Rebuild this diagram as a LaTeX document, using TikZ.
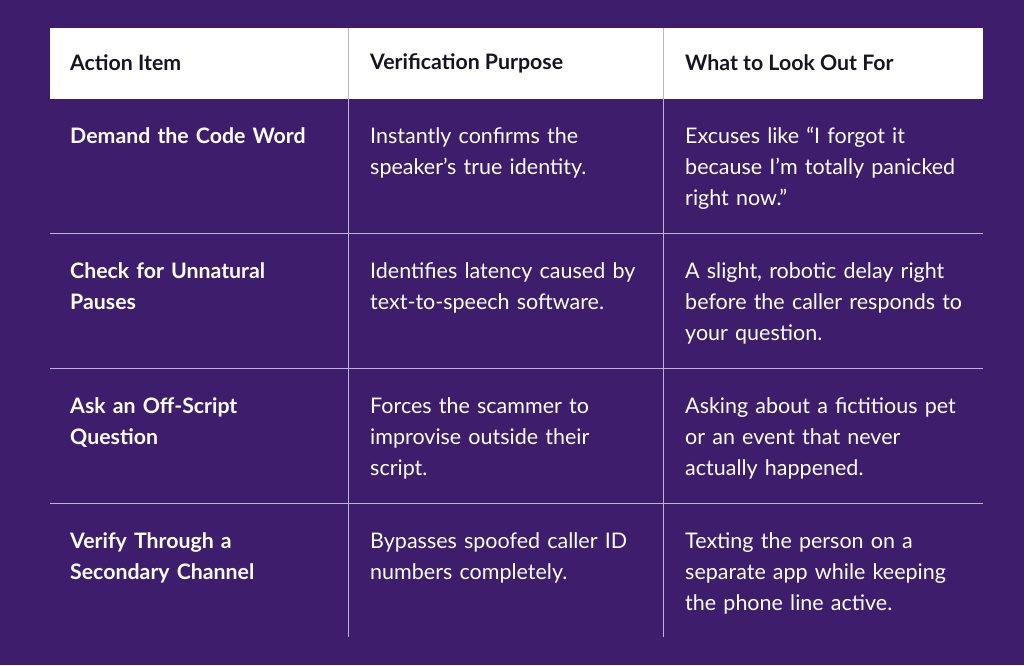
\documentclass[tikz,border=0pt]{standalone}
\usepackage{fontspec}
\setmainfont{Lato}
\definecolor{bg}{RGB}{62,29,108}
\definecolor{ln}{RGB}{190,180,210}
\definecolor{hd}{RGB}{25,20,35}
\begin{document}
\begin{tikzpicture}[x=1pt,y=-1pt,
  hdr/.style={anchor=west,font=\fontsize{21.3}{25}\selectfont\bfseries,text=hd,inner sep=0},
  cell/.style={anchor=north west,text=white,font=\fontsize{21.5}{31}\selectfont,align=left,inner sep=0,text width=290},
  bcell/.style={cell,font=\fontsize{21.3}{31}\selectfont\bfseries}]
\fill[bg] (0,0) rectangle (1024,665);
\useasboundingbox (0,0) rectangle (1024,665);
\fill[white] (50,28) rectangle (983,99);
\draw[ln,line width=0.8] (50,233) -- (983,233) (50,368) -- (983,368) (50,503) -- (983,503);
\draw[ln,line width=0.8] (348,28) -- (348,637) (663,28) -- (663,637);
\node[hdr] (h1) at (70,63) {Action Item};
\node[hdr] (h2) at (370,63) {Verification Purpose};
\node[hdr] (h3) at (685,63) {What to Look Out For};
\node[bcell] (a1) at (70,127) {Demand the Code Word};
\node[cell] (b1) at (370,127) {Instantly confirms the\\speaker’s true identity.};
\node[cell] (c1) at (685,127) {Excuses like “I forgot it\\because I’m totally panicked\\right now.”};
\node[bcell] (a2) at (70,262) {Check for Unnatural\\Pauses};
\node[cell] (b2) at (370,262) {Identifies latency caused by\\text-to-speech software.};
\node[cell] (c2) at (685,262) {A slight, robotic delay right\\before the caller responds to\\your question.};
\node[bcell] (a3) at (70,397) {Ask an Off-Script\\Question};
\node[cell] (b3) at (370,397) {Forces the scammer to\\improvise outside their\\script.};
\node[cell] (c3) at (685,397) {Asking about a fictitious pet\\or an event that never\\actually happened.};
\node[bcell] (a4) at (70,532) {Verify Through a\\Secondary Channel};
\node[cell] (b4) at (370,532) {Bypasses spoofed caller ID\\numbers completely.};
\node[cell] (c4) at (685,532) {Texting the person on a\\separate app while keeping\\the phone line active.};
\end{tikzpicture}
\end{document}
